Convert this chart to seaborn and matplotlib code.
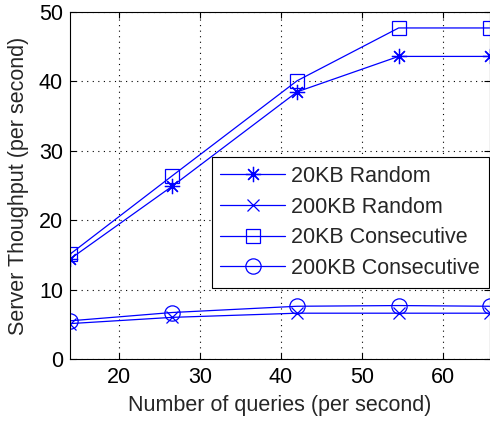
import matplotlib
matplotlib.use("Agg")
import matplotlib.pyplot as plt
import seaborn as sns
import pandas as pd

queries = [14.0, 26.6, 42.0, 54.5, 65.7]
series_names = ["20KB Random", "200KB Random", "20KB Consecutive", "200KB Consecutive"]
rand_20kb = [14.4, 24.9, 38.5, 43.6, 43.6]
rand_200kb = [5.1, 6.0, 6.6, 6.6, 6.6]
cons_20kb = [15.1, 26.4, 40.1, 47.7, 47.7]
cons_200kb = [5.5, 6.7, 7.6, 7.7, 7.6]
x_ticks = [20, 30, 40, 50, 60]
y_ticks = [0, 10, 20, 30, 40, 50]

sns.set_style("ticks")
plt.rcParams["font.family"] = ["Liberation Sans", "DejaVu Sans"]
FS = 15.5

fig = plt.figure(figsize=(4.9, 4.21), dpi=100)
ax = fig.add_axes([70 / 490, 62 / 421, 419.5 / 490, 347 / 421])

values = [rand_20kb, rand_200kb, cons_20kb, cons_200kb]
markers = [(8, 2, 0), "x", "s", "o"]
msizes = [11, 8, 10, 11]
for name, vals, mk, ms in zip(series_names, values, markers, msizes):
    df = pd.DataFrame({"q": queries, "v": vals})
    sns.lineplot(data=df, x="q", y="v", ax=ax, color="#0000ff", lw=0.9,
                 marker=mk, markersize=ms, markerfacecolor="none",
                 markeredgecolor="#0000ff", markeredgewidth=0.9, label=name)

ax.set_xlim(queries[0], queries[-1])
ax.set_ylim(0, 50)
ax.set_xticks(x_ticks)
ax.set_yticks(y_ticks)
ax.tick_params(direction="in", length=4, labelsize=FS, colors="black", top=True, right=True)
ax.tick_params(axis="x", pad=6)
ax.tick_params(axis="y", pad=5)
ax.grid(True, linestyle=(0, (1, 4)), color="black", linewidth=0.8)
for s in ax.spines.values():
    s.set_color("black")
    s.set_linewidth(0.8)
ax.set_xlabel("Number of queries (per second)", fontsize=FS, labelpad=5)
ax.set_ylabel("Server Thoughput (per second)", fontsize=FS, labelpad=7)

leg = ax.legend(loc="upper left", bbox_to_anchor=(211.7 / 490, 1 - 157.3 / 421),
                bbox_transform=fig.transFigure, fontsize=FS, frameon=True,
                fancybox=False, framealpha=1, edgecolor="black", borderaxespad=0,
                handlelength=3.0, handletextpad=0.3, labelspacing=0.45,
                borderpad=0.4)
leg.get_frame().set_linewidth(0.8)

fig.savefig("out.png", dpi=100)
